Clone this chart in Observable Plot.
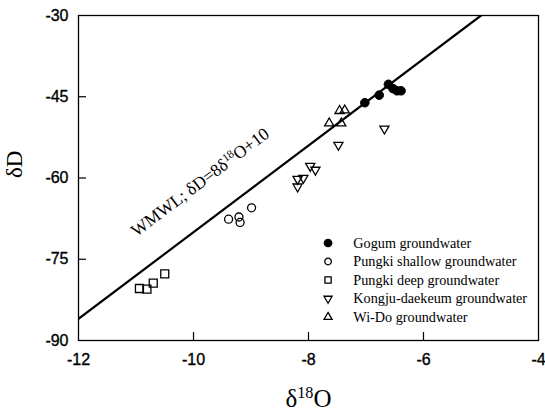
<!DOCTYPE html>
<html>
<head>
<meta charset="utf-8">
<script src="https://cdn.jsdelivr.net/npm/d3@7"></script>
<script src="https://cdn.jsdelivr.net/npm/@observablehq/plot@0.6"></script>
<style>
  body { margin: 0; background: #fff; }
</style>
</head>
<body>
<div id="chart"></div>
<script>
// δ18O (‰) and δD (‰) of groundwater samples, by site
const gogumO   = [-7.02, -6.77, -6.61, -6.53, -6.46, -6.39];
const gogumD   = [-46.1, -44.7, -42.7, -43.5, -43.9, -43.9];
const shallowO = [-9.39, -9.21, -9.19, -8.99];
const shallowD = [-67.6, -67.2, -68.2, -65.5];
const deepO    = [-10.94, -10.81, -10.70, -10.50];
const deepD    = [-80.4, -80.5, -79.4, -77.7];
const kongjuO  = [-7.97, -7.88, -8.19, -8.09, -8.19, -7.48, -6.68];
const kongjuD  = [-57.8, -58.5, -60.2, -60.0, -61.6, -53.9, -50.9];
const widoO    = [-7.46, -7.37, -7.64, -7.43];
const widoD    = [-47.6, -47.5, -49.9, -49.9];

const seriesNames = [
  "Gogum groundwater",
  "Pungki shallow groundwater",
  "Pungki deep groundwater",
  "Kongju-daekeum groundwater",
  "Wi-Do groundwater"
];

const xTicks = [-12, -10, -8, -6, -4];
const yTicks = [-90, -75, -60, -45, -30];

// World meteoric water line: δD = 8·δ18O + 10
const wmwlSlope = 8;
const wmwlIntercept = 10;
const wmwlLabel = "WMWL; δD=8δ^18O+10";

const xDomain = [xTicks[0], xTicks[xTicks.length - 1]];
const yDomain = [yTicks[0], yTicks[yTicks.length - 1]];

const W = 545, H = 411;
const M = {left: 78, right: 7, top: 15, bottom: 71};

const pts = (xs, ys) => xs.map((x, i) => ({x, y: ys[i]}));
const gogum = pts(gogumO, gogumD);
const shallow = pts(shallowO, shallowD);
const deep = pts(deepO, deepD);
const kongju = pts(kongjuO, kongjuD);
const wido = pts(widoO, widoD);

// WMWL drawn across the x extent, clipped by the frame
const wmwlEnd = (yDomain[1] - wmwlIntercept) / wmwlSlope;
const wmwl = [xDomain[0], wmwlEnd].map(x => ({x, y: wmwlSlope * x + wmwlIntercept}));

// on-screen angle of the line
const pxPerX = (W - M.left - M.right) / (xDomain[1] - xDomain[0]);
const pxPerY = (H - M.top - M.bottom) / (yDomain[1] - yDomain[0]);
const lineAngle = -Math.atan(wmwlSlope * pxPerY / pxPerX) * 180 / Math.PI;
const labelX = -10.99;
const labelAt = [{x: labelX, y: wmwlSlope * labelX + wmwlIntercept + 7.0}];

// legend rows inside the plot, lower right
const legendSymbolX = -7.66, legendTextX = -7.22, legendTop = -72.0, legendStep = 3.42;
const legendStyles = [
  {symbol: "circle", r: 4.3, fill: "black", rotate: 0},
  {symbol: "circle", r: 3.4, fill: "none", rotate: 0},
  {symbol: "square", r: 3.8, fill: "none", rotate: 0},
  {symbol: "triangle", r: 2.8, fill: "none", rotate: 180},
  {symbol: "triangle", r: 2.8, fill: "none", rotate: 0}
];
const legend = seriesNames.map((name, i) => ({
  name, ...legendStyles[i], y: legendTop - i * legendStep
}));

const serif = "'Liberation Serif', 'Times New Roman', serif";
const plain = d => String(d);

const plot = Plot.plot({
  width: W,
  height: H,
  marginLeft: M.left,
  marginRight: M.right,
  marginTop: M.top,
  marginBottom: M.bottom,
  x: {domain: xDomain, label: null},
  y: {domain: yDomain, label: null},
  style: {
    fontFamily: "'Liberation Sans', Arial, sans-serif",
    fontSize: "16px",
    color: "black",
    background: "white",
    overflow: "visible"
  },
  marks: [
    Plot.frame({stroke: "black", strokeWidth: 1.3}),
    // inward tick marks
    Plot.axisX(xTicks.slice(1, -1), {tickSize: -8, strokeWidth: 1.2, tickFormat: () => "", label: null}),
    Plot.axisY(yTicks.slice(1, -1), {tickSize: -8, strokeWidth: 1.2, tickFormat: () => "", label: null}),
    // tick labels
    Plot.axisX(xTicks, {tickSize: 0, tickPadding: 13, tickFormat: plain, label: null, fontSize: 16, textStroke: "black", textStrokeWidth: 0.35}),
    Plot.axisY(yTicks, {tickSize: 0, tickPadding: 10, tickFormat: plain, label: null, fontSize: 16, textStroke: "black", textStrokeWidth: 0.35}),
    // axis titles
    Plot.text(["δ^18O"], {frameAnchor: "bottom", dy: 66, lineAnchor: "bottom", fontFamily: serif, fontSize: 25}),
    Plot.text(["δD"], {frameAnchor: "left", dx: -57, rotate: -90, lineAnchor: "bottom", fontFamily: serif, fontSize: 23}),
    // meteoric water line and its label
    Plot.line(wmwl, {x: "x", y: "y", stroke: "black", strokeWidth: 2.2, clip: true}),
    Plot.text(labelAt, {x: "x", y: "y", text: () => wmwlLabel, rotate: lineAngle, textAnchor: "start", lineAnchor: "bottom", fontFamily: serif, fontSize: 17.5}),
    // samples
    Plot.dot(deep, {x: "x", y: "y", symbol: "square", r: 4.5, stroke: "black", strokeWidth: 1.3, fill: "none"}),
    Plot.dot(shallow, {x: "x", y: "y", symbol: "circle", r: 4, stroke: "black", strokeWidth: 1.3, fill: "none"}),
    Plot.dot(kongju, {x: "x", y: "y", symbol: "triangle", r: 3.4, rotate: 180, stroke: "black", strokeWidth: 1.3, fill: "none"}),
    Plot.dot(wido, {x: "x", y: "y", symbol: "triangle", r: 3.4, stroke: "black", strokeWidth: 1.3, fill: "none"}),
    Plot.dot(gogum, {x: "x", y: "y", symbol: "circle", r: 4.3, stroke: "black", strokeWidth: 1, fill: "black"}),
    // legend
    Plot.dot(legend, {x: () => legendSymbolX, y: "y", symbol: "symbol", r: "r", fill: "fill", rotate: "rotate", stroke: "black", strokeWidth: 1.3}),
    Plot.text(legend, {x: () => legendTextX, y: "y", text: "name", textAnchor: "start", fontFamily: serif, fontSize: 14.2})
  ]
});

// turn "^digits" into superscript tspans
d3.select(plot).selectAll("text").each(function () {
  const t = this.textContent;
  const m = t.match(/^(.*)\^(\d+)(.*)$/);
  if (!m) return;
  const sel = d3.select(this);
  sel.text(null);
  sel.append("tspan").text(m[1]);
  sel.append("tspan").attr("font-size", "0.65em").attr("dy", "-0.55em").text(m[2]);
  sel.append("tspan").attr("dy", "0.3575em").text(m[3]);
});

document.getElementById("chart").appendChild(plot);
</script>
</body>
</html>
